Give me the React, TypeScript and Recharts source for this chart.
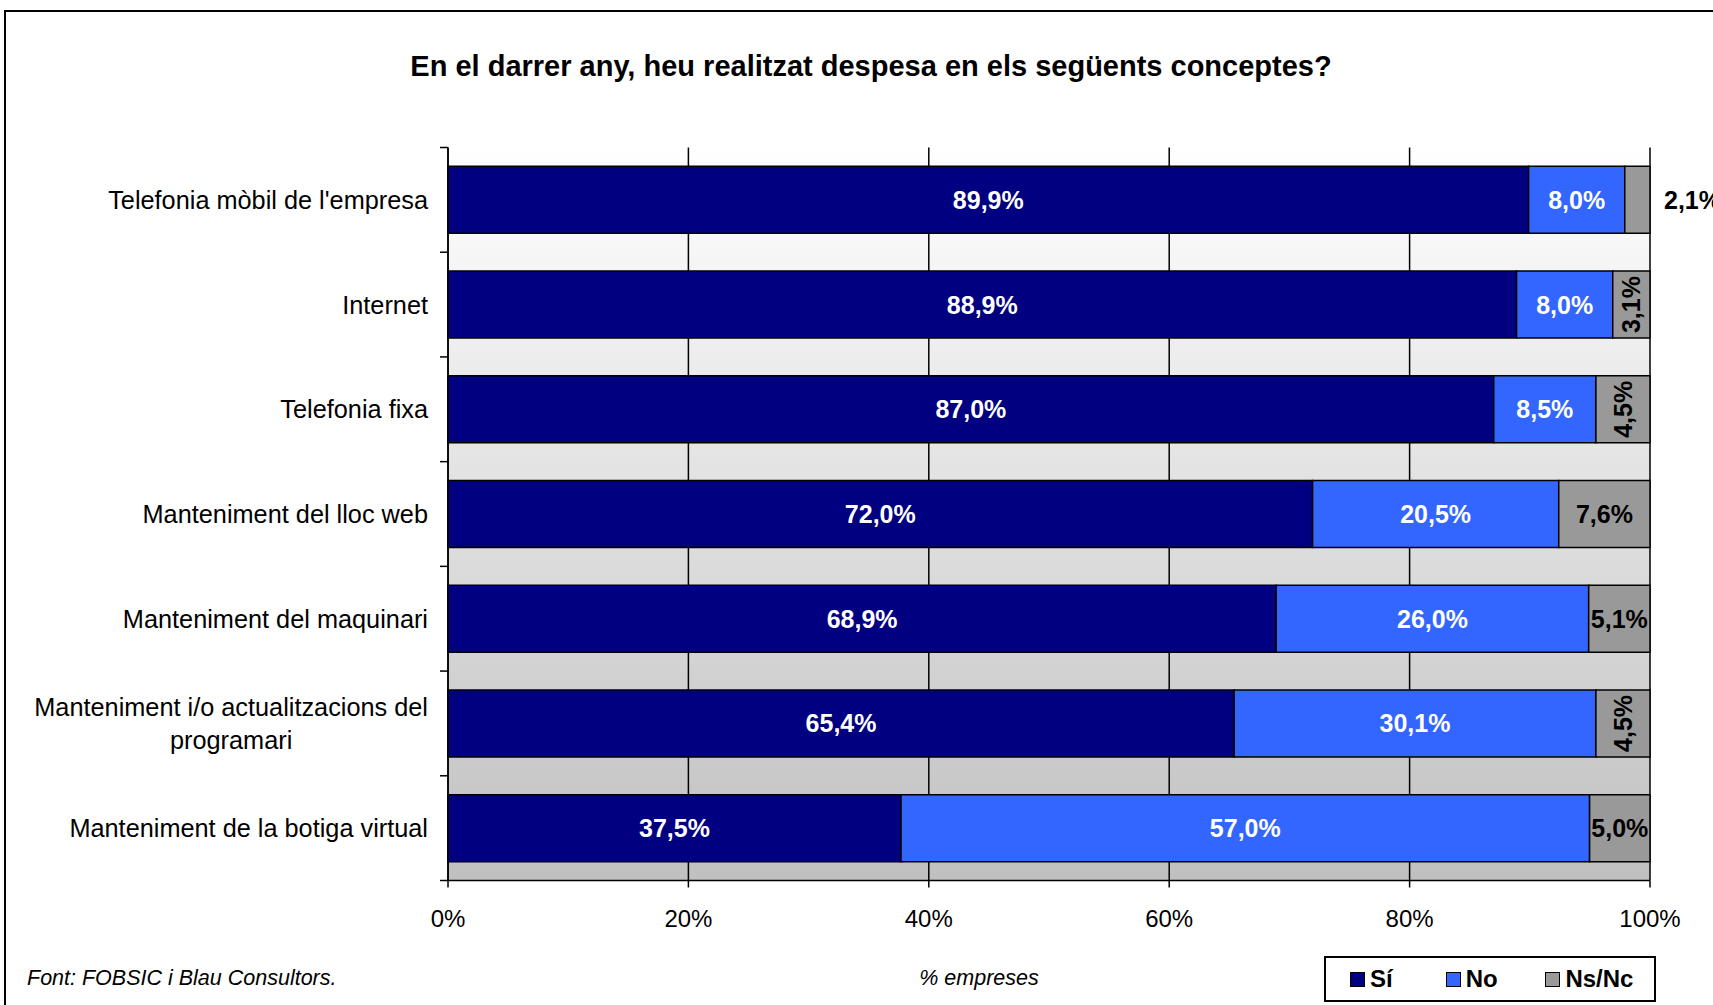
import React from 'react';
import { BarChart, Bar, XAxis, YAxis, CartesianGrid, LabelList } from 'recharts';

const CATEGORIES = [
  "Telefonia mòbil de l'empresa",
  'Internet',
  'Telefonia fixa',
  'Manteniment del lloc web',
  'Manteniment del maquinari',
  'Manteniment i/o actualitzacions del programari',
  'Manteniment de la botiga virtual',
];
const SI = [89.9, 88.9, 87.0, 72.0, 68.9, 65.4, 37.5];
const NO = [8.0, 8.0, 8.5, 20.5, 26.0, 30.1, 57.0];
const NSNC = [2.1, 3.1, 4.5, 7.6, 5.1, 4.5, 5.0];
const X_TICKS = [0, 0.2, 0.4, 0.6, 0.8, 1];

const data = CATEGORIES.map((name, i) => ({ name, si: SI[i], no: NO[i], ns: NSNC[i] }));

const FONT = '"Liberation Sans", Arial, sans-serif';
const W = 1713;
const H = 1005;
const PLOT_LEFT = 448;
const PLOT_RIGHT = 1650;
const PLOT_TOP = 147.5;
const PLOT_BOTTOM = 880.5;
const BAND = (PLOT_BOTTOM - PLOT_TOP) / CATEGORIES.length;

const fmt = (v: number) => v.toFixed(1).replace('.', ',') + '%';

let ctx: CanvasRenderingContext2D | null = null;
const measure = (s: string, font: string) => {
  if (!ctx) ctx = document.createElement('canvas').getContext('2d');
  if (!ctx) return s.length * 12;
  ctx.font = font;
  return ctx.measureText(s).width;
};

const wrap = (s: string, max: number, font: string) => {
  const words = s.split(' ');
  const lines: string[] = [];
  let cur = '';
  words.forEach((w) => {
    const t = cur ? cur + ' ' + w : w;
    if (cur && measure(t, font) > max) {
      lines.push(cur);
      cur = w;
    } else cur = t;
  });
  if (cur) lines.push(cur);
  return lines;
};

const CategoryTick = (props: any) => {
  const { y, payload, index } = props;
  const font = `25.3px ${FONT}`;
  const lines = wrap(payload.value, 410, font);
  const x = PLOT_LEFT - 20;
  const lh = 33;
  const y0 = y - ((lines.length - 1) * lh) / 2;
  const widest = Math.max(...lines.map((l) => measure(l, font)));
  return (
    <g>
      {lines.map((l, i) => (
        <text
          key={i}
          x={lines.length > 1 ? x - widest / 2 : x}
          y={y0 + i * lh}
          textAnchor={lines.length > 1 ? 'middle' : 'end'}
          dominantBaseline="central"
          fontSize={25.3}
          fontFamily={FONT}
          fill="#000"
        >
          {l}
        </text>
      ))}
      <line x1={PLOT_LEFT - 8} x2={PLOT_LEFT} y1={y + BAND / 2} y2={y + BAND / 2} stroke="#000" strokeWidth={1.5} />
      {index === 0 && (
        <line x1={PLOT_LEFT - 8} x2={PLOT_LEFT} y1={y - BAND / 2} y2={y - BAND / 2} stroke="#000" strokeWidth={1.5} />
      )}
    </g>
  );
};

const InsideLabel = (color: string) => (props: any) => {
  const { x, y, width, height, value } = props;
  return (
    <text
      x={x + width / 2}
      y={y + height / 2}
      textAnchor="middle"
      dominantBaseline="central"
      fontSize={25}
      fontWeight="bold"
      fontFamily={FONT}
      fill={color}
    >
      {fmt(value)}
    </text>
  );
};

const NsLabel = (props: any) => {
  const { x, y, width, height, value } = props;
  const cx = x + width / 2;
  const cy = y + height / 2;
  const common = { fontSize: 25, fontWeight: 'bold', fontFamily: FONT, fill: '#000', dominantBaseline: 'central' } as any;
  if (value < 2.5) {
    return (
      <text x={x + width + 14} y={cy} textAnchor="start" {...common}>
        {fmt(value)}
      </text>
    );
  }
  if (value < 5) {
    return (
      <text x={cx} y={cy} textAnchor="middle" transform={`rotate(-90, ${cx}, ${cy})`} {...common}>
        {fmt(value)}
      </text>
    );
  }
  return (
    <text x={cx} y={cy} textAnchor="middle" {...common}>
      {fmt(value)}
    </text>
  );
};

const LEGEND = [
  { label: 'Sí', color: '#000080' },
  { label: 'No', color: '#3366FF' },
  { label: 'Ns/Nc', color: '#999999' },
];

export default function App() {
  return (
    <div style={{ position: 'absolute', left: 0, top: 0, width: W, height: H, overflow: 'hidden', background: '#fff', fontFamily: FONT }}>
      <svg width={0} height={0} style={{ position: 'absolute' }}>
        <defs>
          <linearGradient id="plotBg" x1="0" y1="0" x2="0" y2="1">
            <stop offset="0%" stopColor="#ffffff" />
            <stop offset="100%" stopColor="#c0c0c0" />
          </linearGradient>
        </defs>
      </svg>
      <div style={{ position: 'absolute', left: 4, top: 10, width: 1780, height: 1080, border: '2px solid #000' }} />
      <div style={{ position: 'absolute', left: 0, top: 0 }}>
        <BarChart
          width={W}
          height={H}
          data={data}
          layout="vertical"
          stackOffset="expand"
          barCategoryGap="18%"
          margin={{ top: PLOT_TOP, right: W - PLOT_RIGHT, bottom: H - PLOT_BOTTOM - 40, left: 0 }}
        >
          <CartesianGrid horizontal={false} stroke="#000" strokeWidth={1.5} fill="url(#plotBg)" fillOpacity={1} />
          <XAxis
            type="number"
            domain={[0, 1]}
            ticks={X_TICKS}
            tickFormatter={(v: number) => `${Math.round(v * 100)}%`}
            height={40}
            tickSize={7}
            tickMargin={22}
            stroke="#000"
            axisLine={{ stroke: '#000', strokeWidth: 1.5 }}
            tickLine={{ stroke: '#000', strokeWidth: 1.5 }}
            tick={{ fontSize: 24, fill: '#000', fontFamily: FONT }}
          />
          <XAxis xAxisId="top" orientation="top" type="number" domain={[0, 1]} height={0} tick={false} tickLine={false} axisLine={{ stroke: '#000', strokeWidth: 2 }} />
          <YAxis
            type="category"
            dataKey="name"
            width={PLOT_LEFT}
            interval={0}
            tickLine={false}
            axisLine={{ stroke: '#000', strokeWidth: 1.5 }}
            tick={<CategoryTick />}
          />
          <Bar dataKey="si" stackId="a" fill="#000080" stroke="#000" strokeWidth={1.5} isAnimationActive={false}>
            <LabelList dataKey="si" content={InsideLabel('#ffffff')} />
          </Bar>
          <Bar dataKey="no" stackId="a" fill="#3366FF" stroke="#000" strokeWidth={1.5} isAnimationActive={false}>
            <LabelList dataKey="no" content={InsideLabel('#ffffff')} />
          </Bar>
          <Bar dataKey="ns" stackId="a" fill="#999999" stroke="#000" strokeWidth={1.5} isAnimationActive={false}>
            <LabelList dataKey="ns" content={NsLabel} />
          </Bar>
        </BarChart>
      </div>
      <div style={{ position: 'absolute', left: 0, width: 1742, top: 50, textAlign: 'center', fontSize: 29, fontWeight: 'bold', color: '#000' }}>
        En el darrer any, heu realitzat despesa en els següents conceptes?
      </div>
      <div style={{ position: 'absolute', left: 27, top: 966, fontSize: 21.5, fontStyle: 'italic', color: '#000' }}>
        Font: FOBSIC i Blau Consultors.
      </div>
      <div style={{ position: 'absolute', left: 879, width: 200, top: 966, textAlign: 'center', fontSize: 21.5, fontStyle: 'italic', color: '#000' }}>
        % empreses
      </div>
      <div
        style={{
          position: 'absolute',
          left: 1324,
          top: 956,
          width: 332,
          height: 46,
          boxSizing: 'border-box',
          border: '2px solid #000',
          background: '#fff',
          display: 'flex',
          alignItems: 'center',
          paddingLeft: 24,
          gap: 0,
        }}
      >
        {LEGEND.map((l, i) => (
          <div key={l.label} style={{ display: 'flex', alignItems: 'center', width: i === 0 ? 97 : i === 1 ? 101 : 110 }}>
            <span style={{ display: 'inline-block', width: 13, height: 13, background: l.color, border: '1.5px solid #000', marginRight: 5 }} />
            <span style={{ fontSize: 24, fontWeight: 'bold' }}>{l.label}</span>
          </div>
        ))}
      </div>
    </div>
  );
}
